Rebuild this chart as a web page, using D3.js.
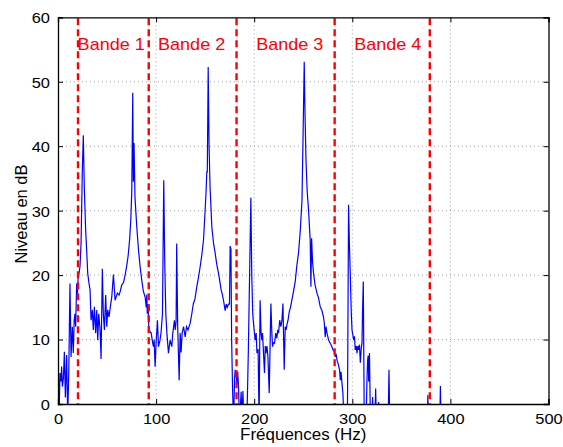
<!DOCTYPE html>
<html>
<head>
<meta charset="utf-8">
<script src="https://cdn.jsdelivr.net/npm/d3@7"></script>
<style>
  html, body { margin: 0; padding: 0; background: #fff; }
  svg { display: block; font-family: "Liberation Sans", Arial, Helvetica, sans-serif; }
</style>
</head>
<body>
<svg id="chart" width="563" height="447"></svg>
<script>
// ---- data ----
const freq = [0,1,2,3,3.7,4.5,5.5,6.5,7.5,8.8,9.9,11,12.2,13.3,14.6,15.6,16.5,17.3,18,19,19.7,20.5,21.4,22.4,23.5,24.8,25.8,26.8,28.2,29.3,30.3,31.6,32.7,33.7,35,36,37.1,38.4,39.5,40.5,41.5,42.9,43.9,45.2,46.2,47.3,48.6,49.7,50.7,52,53.4,54.8,56.5,58.2,60.5,62.2,63.5,65,66.7,68.4,70.1,71.5,73,74.2,75.2,76.2,76.8,77.5,78.5,80.3,82,83.7,85.4,87,88.8,90,90.5,91,91.8,92.5,93.5,95,96.5,97.3,98,99,100,101.4,102.4,104,105,106.5,107.8,108.8,109.9,111,112.6,114.3,116,117,118.7,119.5,120.4,121,122,123.5,124.5,125.5,126.5,128,129.6,131,132.5,134.7,136.4,138,139.5,141.5,143,144.9,146.5,148.3,150,151,151.7,152.2,153.1,154,155,156.8,158.5,160.2,162,163.6,165,166.3,167.5,168.7,170.4,171.5,172.5,173.8,174.8,175.5,176.3,177,178,179,180,180.6,181.5,182.5,183.2,184,185,186.7,187.5,188.5,189.5,192.5,194,196.6,197.5,198.5,199.3,201,202,202.8,204,205,206,207,207.8,208.5,209.5,210.5,211.3,212,213,214,215.3,216.2,217,218,218.7,219.5,220.7,222,223.1,224,224.8,226,227.2,228.3,229.3,230,230.6,231.6,232.5,233.4,234.5,235.7,237,238.4,240.1,241.8,243.5,245.2,247,248.7,249.7,251,251.8,252.8,254,255.4,256.5,257.1,257.8,258.5,259.5,260.5,262,264,265.5,267.3,269,270.7,271.5,272.4,273.2,274.2,275.9,277.6,279,280.3,281.5,282.6,283.5,284.4,285.5,287,287.8,288.5,289.5,290.5,291.5,295,296.2,297,298,299,299.7,301.4,302.2,303,304,304.8,305.6,306.5,307.3,308.2,309.2,309.9,310.4,311.2,312.2,314,315,315.6,316.2,316.7,317.5,318.5,320,320.7,321.5,323,323.8,324.6,326,326.8,327.8,336.5,337.4,338.2,376.4,377,377.6,389.2,389.8,390.5,500];
const level = [10.4,-3,4.8,3.5,5.8,2.7,4,8.1,1,7.6,-2,5,18.7,7.3,12,7.9,13,14,12,18.7,16.6,19.5,20.3,21.3,24.9,36.3,41.7,33.7,27,23.6,20.3,18.7,17.7,13,14.6,11.5,15.1,11,14.6,9.9,14,11.5,7,21,14,11.5,16.9,12,14.6,13.5,15.1,16.6,20.1,16.1,17.2,16.9,17.5,18.5,18.8,20,21.5,23,25.5,28.5,33,48.3,34.5,40.5,32,27.5,24,21.3,19.2,17.5,16.6,15,17,14,15.5,12,11.3,11,9.5,8.9,10,5.8,9.5,13,8.9,9.9,11,14,34.7,22,14,11,7.9,9.9,8.9,11,13,11.5,12.8,24.9,12,3.7,11,8,11,12,10.4,12,11.5,12.5,14,15.6,16.2,18.2,19.5,21.3,23,25.4,30.1,33.2,36,36,52.3,40,33.7,27.5,25,23.4,21.5,20.3,19,17.7,17,16.1,14.5,15.5,15,15.5,15.5,24.5,24,10,2,-3,4,5.3,4.5,3,5,2.7,-3,1.9,-3,2,-3,-3,8,32,20,14,12.5,9.9,11,7.9,8.5,-3,16.1,11,9.9,11,7.9,4.8,9,7.9,9,7.3,1.7,9,15.6,11,8.9,9.5,9.4,11,10.2,11.5,11,13,12,13,15.6,10,5.3,12,11.5,12.3,13,14.3,15,16.1,17.5,19,21.5,23.5,27,31.6,40.5,53.1,45,37.8,33,30.1,27,25.4,18.2,25.7,22,20.3,18.5,17.2,16.5,15.1,14.5,13.5,12.5,10.4,12,11,9.9,9.4,9,8.4,8.2,7.3,7.8,6.8,6.3,5.3,3.7,5,3.2,1.5,-3,-3,30.9,25,19.7,14,11.5,9.9,10.5,8.4,9,7.9,9,8.4,9.2,6.4,8.8,9.4,14,19,-3,-3,4,6.8,7.5,3.5,7.9,-3,-3,1.1,-3,-3,2.4,-3,-3,0.3,-3,-3,5.3,-3,-3,1.4,-3,-3,2.8,-3,-3];
const bandEdges = [20.4, 92.5, 182, 282, 379];
const bandLabels = ["Bande 1", "Bande 2", "Bande 3", "Bande 4"];
const bandLabelFreq = [20, 102, 202, 302];
const bandLabelLevel = 55;
const xTicks = [0, 100, 200, 300, 400, 500];
const yTicks = [0, 10, 20, 30, 40, 50, 60];
const xTitle = "Fréquences (Hz)";
const yTitle = "Niveau en dB";

// ---- layout ----
const L = 58, R = 548.5, T = 17.3, B = 404;
const svg = d3.select("#chart");
const x = d3.scaleLinear().domain([0, 500]).range([L, R]);
const y = d3.scaleLinear().domain([0, 60]).range([B, T]);

svg.append("defs").append("clipPath").attr("id", "plotclip")
  .append("rect").attr("x", L).attr("y", T).attr("width", R - L).attr("height", B - T);

// grid
const grid = svg.append("g").attr("stroke", "#8a8a8a").attr("stroke-width", 0.8).attr("stroke-dasharray", "1,3");
grid.selectAll(".gx").data(xTicks.slice(1, -1)).join("line")
  .attr("x1", d => x(d)).attr("x2", d => x(d)).attr("y1", T).attr("y2", B);
grid.selectAll(".gy").data(yTicks.slice(1, -1)).join("line")
  .attr("x1", L).attr("x2", R).attr("y1", d => y(d)).attr("y2", d => y(d));

// spectrum line
const pts = freq.map((f, i) => [f, level[i]]);
svg.append("path").datum(pts)
  .attr("clip-path", "url(#plotclip)")
  .attr("fill", "none").attr("stroke", "#0000ff").attr("stroke-width", 1.2)
  .attr("stroke-linejoin", "miter")
  .attr("d", d3.line().x(d => x(d[0])).y(d => y(d[1])));

// band edges
svg.append("g").selectAll("line").data(bandEdges).join("line")
  .attr("x1", d => x(d)).attr("x2", d => x(d)).attr("y1", T + 1).attr("y2", B)
  .attr("stroke", "#ff0000").attr("stroke-width", 2.4).attr("stroke-dasharray", "7,4");

// band labels
svg.append("g").selectAll("text").data(bandLabels).join("text")
  .attr("class", "stretch")
  .attr("x", (d, i) => x(bandLabelFreq[i])).attr("y", y(bandLabelLevel))
  .attr("fill", "#ff0000").attr("font-size", 17).text(d => d);

// axes box
const axX = svg.append("g").attr("transform", `translate(0,${B})`)
  .call(d3.axisBottom(x).tickValues(xTicks).tickSize(-5).tickPadding(9).tickFormat(d3.format("d")));
const axY = svg.append("g").attr("transform", `translate(${L},0)`)
  .call(d3.axisLeft(y).tickValues(yTicks).tickSize(-5).tickPadding(8).tickFormat(d3.format("d")));
const axT = svg.append("g").attr("transform", `translate(0,${T})`)
  .call(d3.axisTop(x).tickValues(xTicks).tickSize(-5).tickFormat(""));
const axR = svg.append("g").attr("transform", `translate(${R},0)`)
  .call(d3.axisRight(y).tickValues(yTicks).tickSize(-5).tickFormat(""));
[axX, axY, axT, axR].forEach(a => {
  a.select(".domain").attr("stroke", "#000").attr("stroke-width", 1.3);
  a.selectAll(".tick line").attr("stroke", "#000").attr("stroke-width", 1);
  a.selectAll("text").attr("font-size", 15.5).attr("fill", "#000")
    .attr("font-family", "Liberation Sans, Arial, sans-serif").attr("class", "stretch");
});
axX.selectAll("text").attr("dy", "0.71em");
axY.selectAll("text").attr("dy", "0.35em");

// titles
svg.append("text").attr("class", "stretch")
  .attr("x", (L + R) / 2).attr("y", 440).attr("text-anchor", "middle")
  .attr("font-size", 16).attr("fill", "#000").text(xTitle);
svg.append("text")
  .attr("transform", `translate(26.5,214) rotate(-90)`).attr("text-anchor", "middle")
  .attr("font-size", 16.5).attr("fill", "#000").text(yTitle);

// slight horizontal stretch to match the reference rendering
svg.selectAll("text.stretch").each(function () {
  const w = this.getComputedTextLength();
  d3.select(this).attr("textLength", w * 1.06).attr("lengthAdjust", "spacingAndGlyphs");
});
</script>
</body>
</html>
